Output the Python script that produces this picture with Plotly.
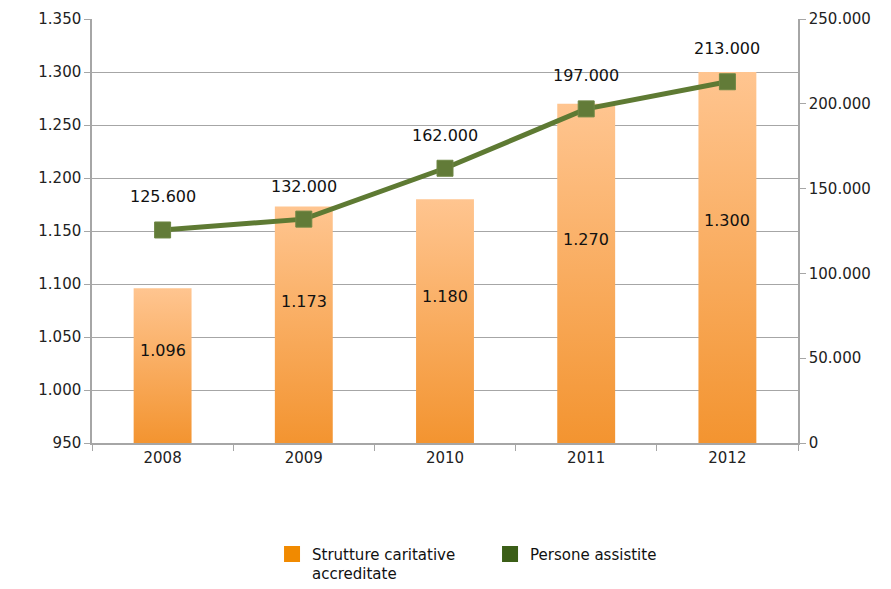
import plotly.graph_objects as go

years = ["2008", "2009", "2010", "2011", "2012"]
strutture = [1096, 1173, 1180, 1270, 1300]
persone = [125600, 132000, 162000, 197000, 213000]
left_ticks = [950, 1000, 1050, 1100, 1150, 1200, 1250, 1300, 1350]
right_ticks = [0, 50000, 100000, 150000, 200000, 250000]

BASE = 950
BAR_W = 0.41
TOP_C = "#FFC590"
BOT_C = "#F39430"
LINE_C = "#5E7A33"
FONT = "DejaVu Sans, Verdana, sans-serif"

def fmt(v):
    return f"{v:,}".replace(",", ".")

fig = go.Figure()

xs = list(range(len(years)))
for i, v in zip(xs, strutture):
    x0, x1 = i - BAR_W / 2, i + BAR_W / 2
    fig.add_trace(go.Scatter(
        x=[x0, x1, x1, x0, x0], y=[BASE, BASE, v, v, BASE],
        mode="lines", line=dict(width=0), fill="toself",
        fillcolor=BOT_C,
        fillgradient=dict(type="vertical", colorscale=[[0, BOT_C], [1, TOP_C]]),
        showlegend=False, hoverinfo="skip",
    ))

# legend entries
fig.add_trace(go.Scatter(x=[None], y=[None], mode="markers",
                         name="Strutture caritative<br>accreditate",
                         marker=dict(symbol="square", size=22, color="#F18A00")))
fig.add_trace(go.Scatter(x=[None], y=[None], mode="markers", name="Persone assistite",
                         marker=dict(symbol="square", size=22, color="#3B5E17")))

fig.add_trace(go.Scatter(
    x=xs, y=persone, yaxis="y2", mode="lines+markers",
    line=dict(color=LINE_C, width=5),
    marker=dict(symbol="square", size=16, color="#627B38",
                line=dict(color="#6E8744", width=1)),
    showlegend=False, hoverinfo="skip",
))

annotations = []
for i, v in zip(xs, persone):
    annotations.append(dict(x=i, y=v, xref="x", yref="y2", text=fmt(v),
                            showarrow=False, yshift=33,
                            font=dict(size=16, color="#111", family=FONT)))
for i, v in zip(xs, strutture):
    annotations.append(dict(x=i, y=BASE + 0.6 * (v - BASE), xref="x", yref="y", text=fmt(v),
                            showarrow=False,
                            font=dict(size=16, color="#111", family=FONT)))

fig.update_layout(
    width=883, height=581,
    margin=dict(l=84, r=93, t=11, b=146),
    paper_bgcolor="white", plot_bgcolor="white",
    separators=",.",
    showlegend=True,
    legend=dict(orientation="h", xref="paper", x=0.255, xanchor="left",
                yref="container", y=0.088, yanchor="top",
                font=dict(size=15, color="#111", family=FONT),
                traceorder="normal", itemsizing="trace", valign="top",
                entrywidth=173, entrywidthmode="pixels"),
    xaxis=dict(range=[-0.5, 4.5], tickvals=xs, ticktext=years, automargin=False,
               showgrid=False, zeroline=False, showline=True, linecolor="#A6A6A6",
               linewidth=1.5, ticks="", tickfont=dict(size=15, color="#222",
               family=FONT)),
    yaxis=dict(range=[950, 1350], tickvals=left_ticks, tickformat=",.0f", automargin=False,
               showgrid=True, gridcolor="#A6A6A6", gridwidth=1.2, zeroline=False,
               showline=True, linecolor="#A6A6A6", linewidth=1.5,
               ticks="outside", ticklen=6, tickcolor="#A6A6A6",
               tickfont=dict(size=15, color="#222", family=FONT)),
    yaxis2=dict(range=[0, 250000], tickvals=right_ticks, tickformat=",.0f", automargin=False,
                overlaying="y", side="right", showgrid=False, zeroline=False,
                showline=True, linecolor="#A6A6A6", linewidth=1.5,
                ticks="outside", ticklen=6, tickcolor="#A6A6A6",
                tickfont=dict(size=15, color="#222", family=FONT)),
    annotations=annotations,
)

fig.update_xaxes(minor=dict(tickvals=[-0.5, 0.5, 1.5, 2.5, 3.5, 4.5], ticks="outside",
                            ticklen=6, tickcolor="#A6A6A6", showgrid=False))

fig.write_html("out.html")
